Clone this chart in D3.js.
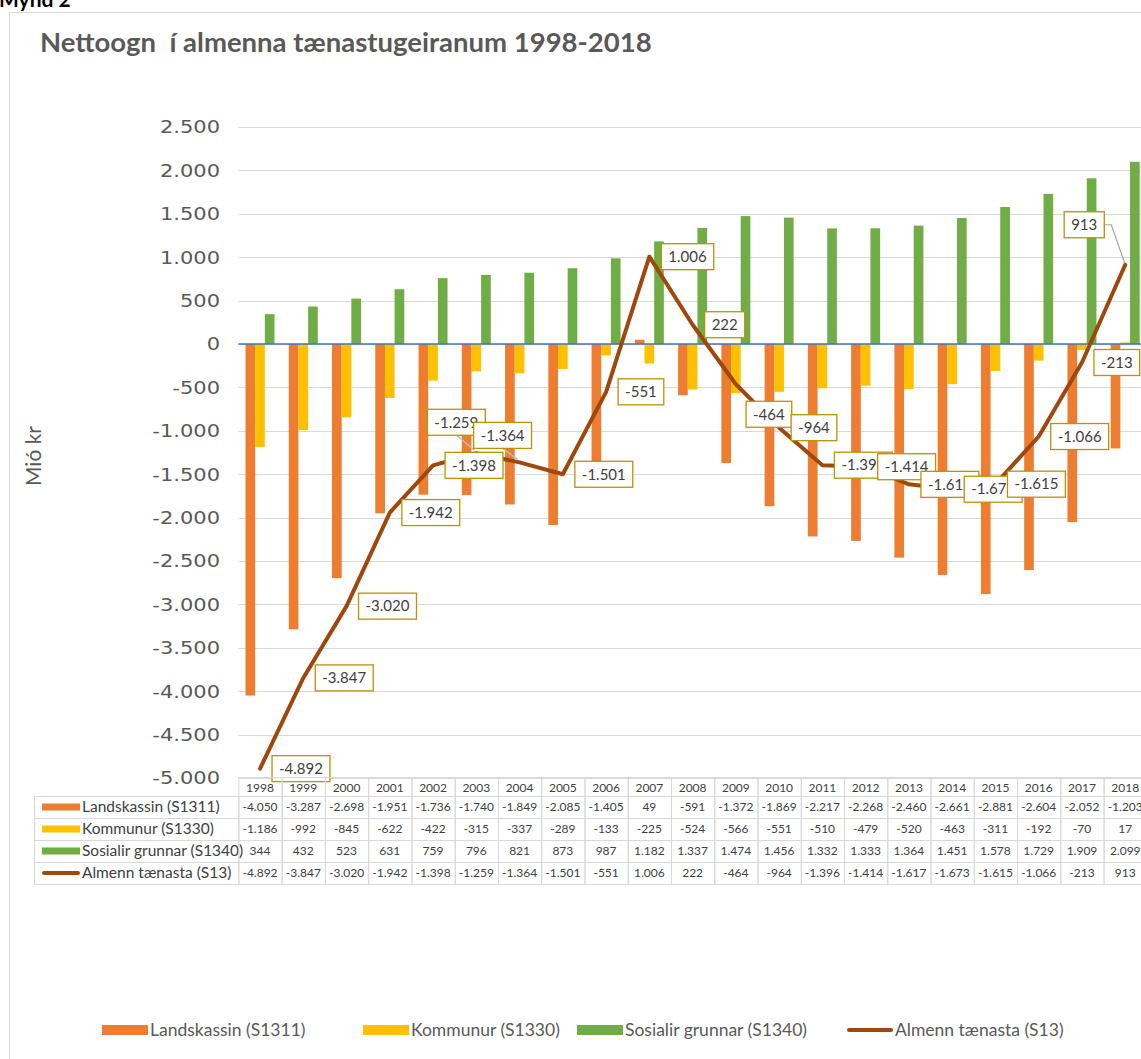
<!DOCTYPE html>
<html><head><meta charset="utf-8">
<script src="https://cdn.jsdelivr.net/npm/d3@7"></script>
<style>body{margin:0;background:#fff;overflow:hidden}svg{display:block}</style>
</head><body>
<svg id="c" width="1141" height="1059"></svg>
<script>
const years = [1998,1999,2000,2001,2002,2003,2004,2005,2006,2007,2008,2009,2010,2011,2012,2013,2014,2015,2016,2017,2018];
const landskassin = [-4050,-3287,-2698,-1951,-1736,-1740,-1849,-2085,-1405,49,-591,-1372,-1869,-2217,-2268,-2460,-2661,-2881,-2604,-2052,-1203];
const kommunur = [-1186,-992,-845,-622,-422,-315,-337,-289,-133,-225,-524,-566,-551,-510,-479,-520,-463,-311,-192,-70,17];
const sosialir = [344,432,523,631,759,796,821,873,987,1182,1337,1474,1456,1332,1333,1364,1451,1578,1729,1909,2099];
const almenn = [-4892,-3847,-3020,-1942,-1398,-1259,-1364,-1501,-551,1006,222,-464,-964,-1396,-1414,-1617,-1673,-1615,-1066,-213,913];
const seriesNames = ["Landskassin (S1311)","Kommunur (S1330)","Sosialir grunnar (S1340)","Almenn tænasta (S13)"];
const yTicks = [2500,2000,1500,1000,500,0,-500,-1000,-1500,-2000,-2500,-3000,-3500,-4000,-4500,-5000];
const chartTitle = "Nettoogn  í almenna tænastugeiranum 1998-2018";
const yTitle = "Mió kr";

// layout / style (not data)
const colors = ["#ED7D31","#FFC000","#70AD47","#9E480E"];
const labelMoves = {2003:[-20,-31], 2004:[-17,-27], 2009:[33,30], 2018:[-41,-40]};
const FONT = "Lato, 'Open Sans', sans-serif";

const loc = d3.formatLocale({decimal:",", thousands:".", grouping:[3], currency:["",""], minus:"-"});
const fmt = loc.format(",d");

const svg = d3.select("#c");
const plotL = 238.4, colW = 43.26, plotTop = 127, plotBottom = 778;
const x = d3.scaleBand().domain(years).range([plotL, plotL + colW*years.length]);
const xi = d3.scaleBand().domain([0,1,2]).range([7.1, 36.1]);
const y = d3.scaleLinear().domain([-5000, 2500]).range([plotBottom, plotTop]);

// Mynd 2 caption and chart frame
svg.append("text").attr("x",-1).attr("y",7).attr("font-family",FONT).attr("font-size",21)
  .attr("font-weight","bold").attr("fill","#000").text("Mynd 2");
svg.append("rect").attr("x",9.5).attr("y",12.5).attr("width",1200).attr("height",1100)
  .attr("fill","none").attr("stroke","#D9D9D9");

svg.append("text").attr("x",40).attr("y",52).attr("font-family",FONT).attr("font-size",27.5)
  .attr("font-weight","bold").attr("fill","#595959").style("white-space","pre").text(chartTitle);

// gridlines
svg.append("g").selectAll("line").data(yTicks).join("line")
  .attr("x1",plotL).attr("x2",1141).attr("y1",d=>Math.round(y(d))+0.5).attr("y2",d=>Math.round(y(d))+0.5)
  .attr("stroke","#D9D9D9").attr("stroke-width",1);

// y tick labels (slightly widened glyphs like the reference)
svg.append("g").selectAll("g").data(yTicks).join("g")
  .attr("transform",d=>`translate(220,${y(d)}) scale(1.2,1)`)
  .append("text").attr("x",0).attr("y",0).attr("dy","0.36em").attr("text-anchor","end")
  .attr("font-family","'DejaVu Sans', Verdana, sans-serif").attr("font-size",17.5).attr("fill","#595959").text(d=>fmt(d));

svg.append("text").attr("transform","translate(41,456) rotate(-90)").attr("text-anchor","middle")
  .attr("font-family",FONT).attr("font-size",21).attr("fill","#595959").text(yTitle);

// bars
const barSeries = [landskassin, kommunur, sosialir];
barSeries.forEach((vals, si) => {
  svg.append("g").selectAll("rect").data(vals).join("rect")
    .attr("x",(d,i)=>x(years[i]) + xi(si)).attr("width",xi.bandwidth())
    .attr("y",d=>Math.min(y(d),y(0))).attr("height",d=>Math.abs(y(d)-y(0)))
    .attr("fill",colors[si]);
});

// zero axis line
svg.append("line").attr("x1",plotL).attr("x2",1141).attr("y1",y(0)).attr("y2",y(0))
  .attr("stroke","#4472C4").attr("stroke-width",1.5);

// leader lines group, line series, labels
const leadG = svg.append("g");
const cx = i => x(years[i]) + x.bandwidth()/2;
svg.append("path").datum(almenn)
  .attr("d", d3.line().x((d,i)=>cx(i)).y(d=>y(d)))
  .attr("fill","none").attr("stroke",colors[3]).attr("stroke-width",4)
  .attr("stroke-linejoin","round").attr("stroke-linecap","round");

const lblG = svg.append("g");
almenn.forEach((v,i) => {
  const g = lblG.append("g");
  const t = g.append("text").attr("font-family",FONT).attr("font-size",15).attr("fill","#404040")
    .attr("text-anchor","middle").attr("dy","0.35em").text(fmt(v));
  const w = t.node().getComputedTextLength() + 14, h = 26;
  const px = cx(i), py = y(v);
  let mx, my;
  if (labelMoves[years[i]]) { mx = px + labelMoves[years[i]][0]; my = py + labelMoves[years[i]][1]; }
  else { mx = px + 12 + w/2; my = py; }
  g.insert("rect","text").attr("x",mx-w/2).attr("y",my-h/2).attr("width",w).attr("height",h)
    .attr("fill","#fff").attr("stroke","#BF9000").attr("stroke-width",1.3);
  t.attr("x",mx).attr("y",my);
  if (years[i]===2018) {
    leadG.append("polyline").attr("points",`${mx+w/2},${my} ${mx+w/2+7},${my} ${px},${py}`)
      .attr("fill","none").attr("stroke","#A6A6A6").attr("stroke-width",1.2);
  } else if (years[i]===2003 || years[i]===2004) {
    leadG.append("line").attr("x1",mx).attr("y1",my+h/2).attr("x2",px-2).attr("y2",py-3)
      .attr("stroke","#BFBFBF").attr("stroke-width",1.5);
  }
});

// data table
const tbl = svg.append("g");
const hdrTop = 777, hdrH = 19, rowH = 22, tblL = 34;
const gridC = "#D9D9D9";
years.forEach((yr,i) => {
  tbl.append("rect").attr("x",x(yr)+0.5).attr("y",hdrTop+0.5).attr("width",colW).attr("height",hdrH)
    .attr("fill","none").attr("stroke",gridC);
  tbl.append("text").attr("x",x(yr)+colW/2).attr("y",hdrTop+hdrH/2+1).attr("dy","0.35em")
    .attr("text-anchor","middle").attr("font-family",FONT).attr("font-size",12).attr("fill","#404040").text(yr);
});
const allSeries = [landskassin, kommunur, sosialir, almenn];
allSeries.forEach((vals, r) => {
  const ry = hdrTop + hdrH + r*rowH;
  tbl.append("rect").attr("x",tblL+0.5).attr("y",ry+0.5).attr("width",plotL-tblL).attr("height",rowH)
    .attr("fill","none").attr("stroke",gridC);
  if (r < 3) {
    tbl.append("rect").attr("x",tblL+8).attr("y",ry+rowH/2-3.5).attr("width",38).attr("height",7).attr("fill",colors[r]);
  } else {
    tbl.append("line").attr("x1",tblL+10).attr("x2",tblL+44).attr("y1",ry+rowH/2).attr("y2",ry+rowH/2)
      .attr("stroke",colors[3]).attr("stroke-width",4).attr("stroke-linecap","round");
  }
  tbl.append("text").attr("x",tblL+48).attr("y",ry+rowH/2).attr("dy","0.35em")
    .attr("font-family",FONT).attr("font-size",15.5).attr("fill","#404040").text(seriesNames[r]);
  vals.forEach((v,i) => {
    tbl.append("rect").attr("x",x(years[i])+0.5).attr("y",ry+0.5).attr("width",colW).attr("height",rowH)
      .attr("fill","none").attr("stroke",gridC);
    tbl.append("text").attr("x",x(years[i])+colW/2).attr("y",ry+rowH/2).attr("dy","0.35em")
      .attr("text-anchor","middle").attr("font-family",FONT).attr("font-size",12).attr("fill","#404040").text(fmt(v));
  });
});

// bottom legend
const legX = [102, 363, 577, 847];
const legY = 1030;
seriesNames.forEach((n,k) => {
  const g = svg.append("g").attr("transform",`translate(${legX[k]},${legY})`);
  if (k < 3) g.append("rect").attr("x",0).attr("y",-5).attr("width",46).attr("height",10).attr("fill",colors[k]);
  else g.append("line").attr("x1",2).attr("x2",44).attr("y1",0).attr("y2",0).attr("stroke",colors[3])
        .attr("stroke-width",4).attr("stroke-linecap","round");
  g.append("text").attr("x",48).attr("y",0).attr("dy","0.35em").attr("font-family",FONT)
    .attr("font-size",17.5).attr("fill","#595959").text(n);
});
</script>
</body></html>
